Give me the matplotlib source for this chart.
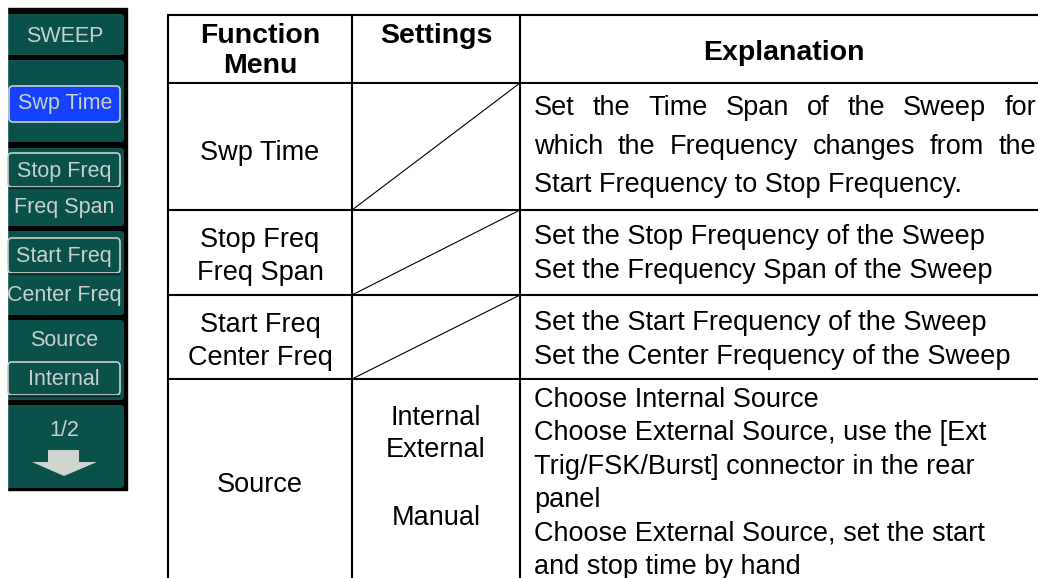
import matplotlib.pyplot as plt
from matplotlib.patches import Rectangle, FancyBboxPatch, Polygon

# ---- data ----
panel_title = 'SWEEP'
panel_buttons = ['Swp Time', 'Stop Freq', 'Start Freq', 'Internal']
panel_labels = ['Freq Span', 'Center Freq', 'Source', '1/2']

headers = ['Function\nMenu', 'Settings', 'Explanation']
menu_col = [['Swp Time'], ['Stop Freq', 'Freq Span'], ['Start Freq', 'Center Freq'], ['Source']]
settings_col = [[], [], [], ['Internal', 'External', '', 'Manual']]
explain_col = [
    ['Set the Time Span of the Sweep for',
     'which the Frequency changes from the',
     'Start Frequency to Stop Frequency.'],
    ['Set the Stop Frequency of the Sweep',
     'Set the Frequency Span of the Sweep'],
    ['Set the Start Frequency of the Sweep',
     'Set the Center Frequency of the Sweep'],
    ['Choose Internal Source',
     'Choose External Source, use the [Ext',
     'Trig/FSK/Burst] connector in the rear',
     'panel',
     'Choose External Source, set the start',
     'and stop time by hand'],
]

# ---- layout (pixels) ----
W, H = 1038, 578
col_x = [168, 352, 520, 1048]
row_y = [15, 83, 210, 295, 379, 600]
menu_base = [[160], [247, 280], [332, 365], [492]]
settings_base = [425, 457, 491, 525]
explain_first = [115, 244, 330, 407]
explain_step = [38.5, 33.5, 33.5, 33.3]
justify_rows = {0: 2}  # row 0: first 2 lines justified

teal = '#0a504b'
blue = '#1442ff'
lcd = '#c9d1cd'
font = 'Liberation Sans'
fs = 19.5

fig = plt.figure(figsize=(W / 100, H / 100), dpi=100)
ax = fig.add_axes([0, 0, 1, 1])
ax.set_xlim(0, W)
ax.set_ylim(H, 0)
ax.axis('off')

# ---- left menu panel ----
ax.add_patch(Rectangle((7, 8), 120, 482, color='black', zorder=1))
boxes = [(14, 55), (60, 142), (148, 226), (231, 315), (320, 400), (405, 488)]
for y0, y1 in boxes:
    ax.add_patch(FancyBboxPatch((3, y0 + 3), 118, y1 - y0 - 6,
                                boxstyle='round,pad=3', fc=teal, ec='none', zorder=2))
ax.add_patch(Rectangle((0, 0), 7, 500, color='white', zorder=3))

ax.text(65, 37, panel_title, color=lcd, fontsize=15.5, family=font,
        ha='center', va='center', zorder=5)

# selected button (blue)
ax.add_patch(FancyBboxPatch((9, 86), 111, 36, boxstyle='round,pad=0,rounding_size=4',
                            fc=blue, ec=lcd, lw=1.2, zorder=4))
ax.text(65, 104, panel_buttons[0], color=lcd, fontsize=15.5, family=font,
        ha='center', va='center', zorder=5)

# framed buttons
btn_y = [(153, 187), (238, 273), (362, 395)]
for (y0, y1), lab in zip(btn_y, panel_buttons[1:]):
    ax.add_patch(FancyBboxPatch((8, y0), 112, y1 - y0, boxstyle='round,pad=0,rounding_size=4',
                                fc=teal, ec=lcd, lw=1.2, zorder=4))
    ax.plot([10, 119], [y1 + 1, y1 + 1], color='#03201e', lw=1.2, zorder=4)
    ax.text(64, (y0 + y1) / 2 + 1, lab, color=lcd, fontsize=15.5, family=font,
            ha='center', va='center', zorder=5)

label_y = [207, 295, 340, 430]
for y, lab in zip(label_y, panel_labels):
    ax.text(64, y, lab, color=lcd, fontsize=15.5, family=font,
            ha='center', va='center', zorder=5)

# down arrow
ax.add_patch(Polygon([(48, 450), (79, 450), (79, 462), (97, 462), (64, 476),
                      (32, 462), (48, 462)], closed=True, fc='#d0d4d0', ec='none', zorder=5))

# ---- table grid ----
lw = 1.5
for x in col_x[:3]:
    ax.plot([x, x], [row_y[0], H + 5], color='black', lw=lw, solid_capstyle='butt')
for y in row_y[:5]:
    ax.plot([col_x[0] - 1, W + 5], [y, y], color='black', lw=lw, solid_capstyle='butt')
for r in range(3):
    ax.plot([col_x[1], col_x[2]], [row_y[r + 2], row_y[r + 1]], color='black', lw=0.8)

# headers
c0 = (col_x[0] + col_x[1]) / 2
c1 = (col_x[1] + col_x[2]) / 2
c2 = (col_x[2] + col_x[3]) / 2
ax.text(c0, 43, 'Function', fontsize=20.5, weight='bold', family=font, ha='center', va='baseline')
ax.text(c0, 73, 'Menu', fontsize=20.5, weight='bold', family=font, ha='center', va='baseline')
ax.text(c1, 43, headers[1], fontsize=20.5, weight='bold', family=font, ha='center', va='baseline')
ax.text(c2, 60, headers[2], fontsize=20.5, weight='bold', family=font, ha='center', va='baseline')

# function menu column
for lines, bases in zip(menu_col, menu_base):
    for t, b in zip(lines, bases):
        ax.text(c0, b, t, fontsize=fs, family=font, ha='center', va='baseline')

# settings column
for t, b in zip(settings_col[3], settings_base):
    if t:
        ax.text(c1, b, t, fontsize=fs, family=font, ha='center', va='baseline')

# explanation column
renderer = fig.canvas.get_renderer()
x_left, x_right = 534, 1036
for r, lines in enumerate(explain_col):
    for i, line in enumerate(lines):
        b = explain_first[r] + i * explain_step[r]
        if i < justify_rows.get(r, 0):
            words = line.split()
            arts = [ax.text(0, b, w, fontsize=fs, family=font, ha='left', va='baseline')
                     for w in words]
            widths = [a.get_window_extent(renderer).width for a in arts]
            gap = (x_right - x_left - sum(widths)) / (len(words) - 1)
            x = x_left
            for a, wd in zip(arts, widths):
                a.set_x(x)
                x += wd + gap
        else:
            ax.text(x_left, b, line, fontsize=fs, family=font, ha='left', va='baseline')

fig.savefig('out.png', dpi=100)
